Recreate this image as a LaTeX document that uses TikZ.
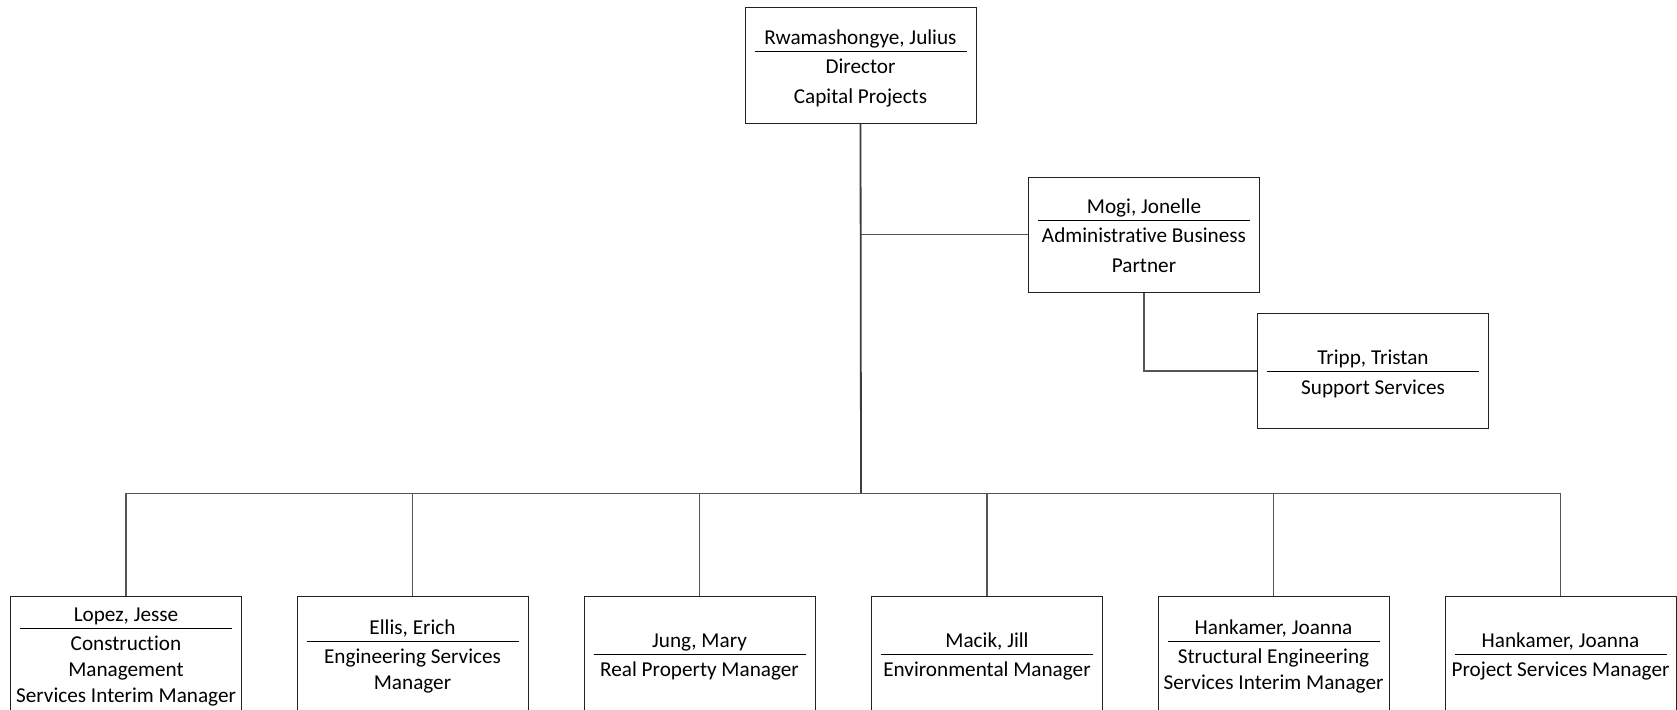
\documentclass[tikz,border=0pt]{standalone}
\usepackage{fontspec}
\setmainfont{Carlito}[Ligatures={NoCommon}]
\definecolor{linegray}{HTML}{555555}
\definecolor{boxline}{HTML}{222222}
\newcommand\ls{\rule[-5pt]{0pt}{25pt}}
\newcommand\nl{\par\ls}
\newcommand\orgtxt[3][26pt]{%
  \begin{minipage}{224pt}\centering\fontsize{21.2pt}{#1}\selectfont
    \rule[-5.5pt]{0pt}{27.5pt}#2\par
    \nointerlineskip\vspace{0.9pt}%
    \noindent\makebox[\linewidth]{\rule{212pt}{1.2pt}}\par
    \nointerlineskip\vspace{2pt}%
    \ls #3\par
  \end{minipage}}
\tikzset{
  orgbox/.style={draw=boxline, line width=1pt, fill=white, minimum width=231pt,
    minimum height=115pt, inner sep=0pt, text=black},
  conn/.style={draw=linegray, line width=1.2pt},
  trunk/.style={draw=linegray!70!black, line width=1.8pt}
}
\begin{document}
\begin{tikzpicture}[x=1pt,y=-1pt]
\useasboundingbox (0,0) rectangle (1677,709);
\clip (0,0) rectangle (1677,709);
\fill[white] (0,0) rectangle (1677,709);

\node[orgbox] (top) at (860.5,65.5) {\orgtxt[30pt]{Rwamashongye, Julius}{Director\nl Capital Projects}};
\node[orgbox] (mogi) at (1144,234.5) {\orgtxt[30pt]{Mogi, Jonelle}{Administrative Business\nl Partner}};
\node[orgbox] (tripp) at (1373,371) {\orgtxt{Tripp, Tristan}{Support Services}};

\node[orgbox] (lopez) at (126,653.5) {\orgtxt{Lopez, Jesse}{Construction\nl Management\nl Services Interim Manager}};
\node[orgbox] (ellis) at (412.5,653.5) {\orgtxt{Ellis, Erich}{Engineering Services\nl Manager}};
\node[orgbox] (jung) at (699.5,653.5) {\orgtxt{Jung, Mary}{Real Property Manager}};
\node[orgbox] (macik) at (987,653.5) {\orgtxt{Macik, Jill}{Environmental Manager}};
\node[orgbox] (hank1) at (1273.5,653.5) {\orgtxt{Hankamer, Joanna}{Structural Engineering\nl Services Interim Manager}};
\node[orgbox] (hank2) at (1560.5,653.5) {\orgtxt{Hankamer, Joanna}{Project Services Manager}};

\coordinate (bus) at (861,493.5);
\draw[trunk] (top.south) -- (bus);
\draw[conn] (top.south |- mogi.west) -- (mogi.west);
\draw[conn] (mogi.south) |- (tripp.west);
\foreach \n in {lopez,ellis,jung,macik,hank1,hank2}
  \draw[conn] (bus) -| (\n.north);
\end{tikzpicture}
\end{document}
